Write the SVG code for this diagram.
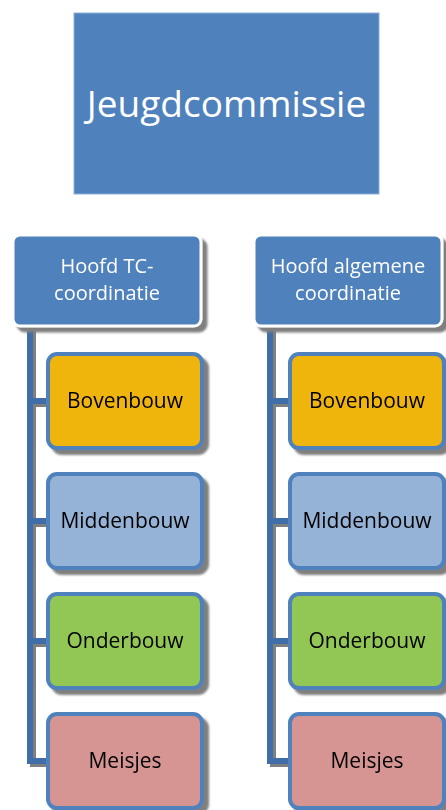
<svg xmlns="http://www.w3.org/2000/svg" width="446" height="810" viewBox="0 0 446 810">
<defs>
<filter id="sh" x="-10%" y="-10%" width="130%" height="130%">
<feDropShadow dx="5" dy="5" stdDeviation="1.2" flood-color="#7f7f7f" flood-opacity="1"/>
</filter>
<filter id="lsh" x="-50%" y="-5%" width="200%" height="110%">
<feDropShadow dx="3" dy="3" stdDeviation="0.6" flood-color="#7f7f7f" flood-opacity="1"/>
</filter>
</defs>
<style>
text{font-family:"Open Sans","Noto Sans",sans-serif;text-anchor:middle}
.title{font-size:37px;fill:#fff}
.head rect{fill:#4f81bd;stroke:#fff;stroke-width:3}
.head text{font-size:20px;fill:#fff}
.child rect{stroke:#4f81bd;stroke-width:4}
.child text{font-size:21px;fill:#000}
.conn path{fill:none;stroke:#3f6ea8;stroke-width:6}
.bov{fill:#f0b511}
.mid{fill:#95b3d7}
.ond{fill:#92c754}
.mei{fill:#d69493}
</style>
<g id="jeugdcommissie">
<rect x="74" y="13" width="305" height="181" fill="#4f81bd" stroke="#8fb0da" stroke-width="1"/>
<text class="title" x="226.5" y="117">Jeugdcommissie</text>
</g>
<g id="connectors" class="conn" filter="url(#lsh)">
<path d="M30 328 V761 M27 401 H48 M27 521 H48 M27 641 H48 M27 761 H48"/>
<path d="M270 328 V761 M267 401 H290 M267 521 H290 M267 641 H290 M267 761 H290"/>
</g>
<g id="hoofd-tc" class="head" filter="url(#sh)">
<rect x="13" y="235" width="188" height="91" rx="7"/>
<text x="107" y="272.5">Hoofd TC-</text>
<text x="107" y="300">coordinatie</text>
</g>
<g id="hoofd-algemeen" class="head" filter="url(#sh)">
<rect x="254" y="235" width="188" height="91" rx="7"/>
<text x="348" y="272.5">Hoofd algemene</text>
<text x="348" y="300">coordinatie</text>
</g>
<g id="tc-bovenbouw" class="child" filter="url(#sh)">
<rect class="bov" x="48" y="354" width="154" height="94" rx="9"/>
<text x="125" y="408">Bovenbouw</text>
</g>
<g id="tc-middenbouw" class="child" filter="url(#sh)">
<rect class="mid" x="48" y="474" width="154" height="94" rx="9"/>
<text x="125" y="528">Middenbouw</text>
</g>
<g id="tc-onderbouw" class="child" filter="url(#sh)">
<rect class="ond" x="48" y="594" width="154" height="94" rx="9"/>
<text x="125" y="648">Onderbouw</text>
</g>
<g id="tc-meisjes" class="child" filter="url(#sh)">
<rect class="mei" x="48" y="714" width="154" height="94" rx="9"/>
<text x="125" y="768">Meisjes</text>
</g>
<g id="alg-bovenbouw" class="child" filter="url(#sh)">
<rect class="bov" x="290" y="354" width="154" height="94" rx="9"/>
<text x="367" y="408">Bovenbouw</text>
</g>
<g id="alg-middenbouw" class="child" filter="url(#sh)">
<rect class="mid" x="290" y="474" width="154" height="94" rx="9"/>
<text x="367" y="528">Middenbouw</text>
</g>
<g id="alg-onderbouw" class="child" filter="url(#sh)">
<rect class="ond" x="290" y="594" width="154" height="94" rx="9"/>
<text x="367" y="648">Onderbouw</text>
</g>
<g id="alg-meisjes" class="child" filter="url(#sh)">
<rect class="mei" x="290" y="714" width="154" height="94" rx="9"/>
<text x="367" y="768">Meisjes</text>
</g>
</svg>
